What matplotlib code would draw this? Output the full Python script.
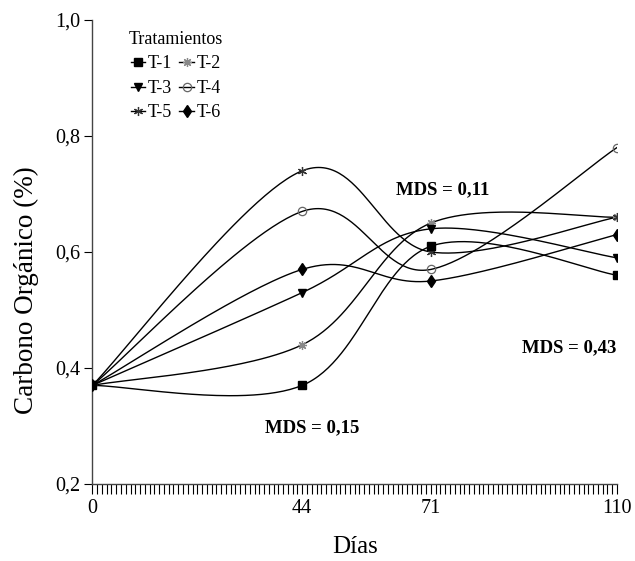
import numpy as np
import matplotlib
matplotlib.use("Agg")
import matplotlib.pyplot as plt
from matplotlib.lines import Line2D

plt.rcParams['font.family'] = ['Liberation Serif', 'DejaVu Serif']

days = [0, 44, 71, 110]
series_names = ["T-1", "T-2", "T-3", "T-4", "T-5", "T-6"]
t1 = [0.37, 0.37, 0.61, 0.56]
t2 = [0.37, 0.44, 0.65, 0.66]
t3 = [0.37, 0.53, 0.64, 0.59]
t4 = [0.37, 0.67, 0.57, 0.78]
t5 = [0.37, 0.74, 0.60, 0.66]
t6 = [0.37, 0.57, 0.55, 0.63]
values = [t1, t2, t3, t4, t5, t6]
yticks = [0.2, 0.4, 0.6, 0.8, 1.0]
ytick_labels = ["0,2", "0,4", "0,6", "0,8", "1,0"]
annotations = [("MDS = 0,11", 73.5, 0.707), ("MDS = 0,15", 46, 0.297), ("MDS = 0,43", 100, 0.435)]

styles = [
    dict(marker='s', ms=5.5, mfc='black', mec='black'),
    dict(marker=(8, 2, 0), ms=6.5, mfc='none', mec='#888888', mew=0.9),
    dict(marker='v', ms=6, mfc='black', mec='black'),
    dict(marker='o', ms=6, mfc='none', mec='#666666', mew=0.9),
    dict(marker=(6, 2, 0), ms=6.5, mfc='none', mec='#333333', mew=0.9),
    dict(marker='d', ms=6.5, mfc='black', mec='black'),
]


def smooth(x, y, n=60):
    P = np.column_stack([x, y]).astype(float)
    ext = np.vstack([P[0], P, P[-1]])
    out = []
    for i in range(len(P) - 1):
        p0, p1, p2, p3 = ext[i], ext[i + 1], ext[i + 2], ext[i + 3]
        c1 = p1 + (p2 - p0) / 6.0
        c2 = p2 - (p3 - p1) / 6.0
        t = np.linspace(0, 1, n)[:, None]
        seg = ((1 - t) ** 3) * p1 + 3 * ((1 - t) ** 2) * t * c1 + 3 * (1 - t) * t ** 2 * c2 + t ** 3 * p2
        out.append(seg if i == 0 else seg[1:])
    s = np.vstack(out)
    return s[:, 0], s[:, 1]


fig = plt.figure(figsize=(6.35, 5.61), dpi=100)
ax = fig.add_axes([0.1455, 0.1373, 0.826, 0.827])

handles = []
for k, (name, v, st) in enumerate(zip(series_names, values, styles)):
    sx, sy = smooth(days, v)
    ax.plot(sx, sy, color='black', lw=1.0, zorder=2)
    ax.plot(days, v, ls='none', zorder=5 if k == 0 else 3, **st)
    handles.append(Line2D([], [], color='black', lw=1.0, **st))

for txt, x, y in annotations:
    ax.text(x, y, txt, fontsize=13.5, fontweight='bold', ha='center', va='center')

ax.set_xlim(0, 110)
ax.set_ylim(0.2, 1.0)
ax.set_xticks(days)
ax.set_xticklabels([str(d) for d in days], fontsize=14.5)
ax.set_xticks(np.arange(0, 111, 1), minor=True)
ax.set_yticks(yticks)
ax.set_yticklabels(ytick_labels, fontsize=14.5)
ax.tick_params(axis='x', which='both', direction='out', length=7, width=0.8, pad=4)
ax.tick_params(axis='y', direction='out', length=6, width=0.8, pad=3)
for s in ['top', 'right']:
    ax.spines[s].set_visible(False)
for s in ['left', 'bottom']:
    ax.spines[s].set_linewidth(1.0)
    ax.spines[s].set_color('#444444')

fig.text(355 / 635, 1 - 547 / 561, "Días", fontsize=18, ha='center', va='center')
fig.text(26 / 635, 1 - 290 / 561, "Carbono Orgánico (%)", fontsize=19.5, ha='center', va='center',
         rotation=90)

order = [0, 2, 4, 1, 3, 5]
leg = ax.legend([handles[i] for i in order], [series_names[i] for i in order], ncol=2, frameon=False,
                title="Tratamientos", loc='upper left', bbox_to_anchor=(0.038, 1.012),
                fontsize=13, title_fontsize=13, handlelength=0.8, handletextpad=0.15,
                columnspacing=0.4, labelspacing=0.42, borderpad=0.4)

fig.savefig("out.png", dpi=100)
